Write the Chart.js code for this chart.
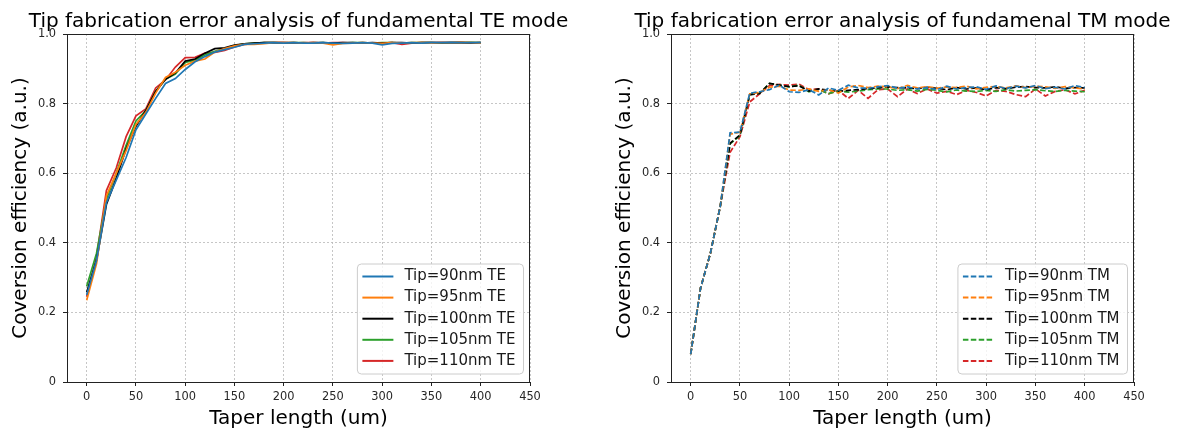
<!DOCTYPE html>
<html>
<head>
<meta charset="utf-8">
<script src="https://cdn.jsdelivr.net/npm/chart.js@4.4.0/dist/chart.umd.min.js"></script>
<style>
  body { margin: 0; background: #fff; width: 1178px; height: 430px; overflow: hidden; position: relative; }
  #boxTE { position: absolute; left: 0; top: 0; }
  #boxTM { position: absolute; left: 604px; top: 0; }
</style>
</head>
<body>
<div id="boxTE"><canvas id="graficoTE" width="590" height="430"></canvas></div>
<div id="boxTM"><canvas id="graficoTM" width="574" height="430"></canvas></div>
<script>
var taperLength = [0, 10, 20, 30, 40, 50, 60, 70, 80, 90,
    100, 110, 120, 130, 140, 150, 160, 170, 180, 190,
    200, 210, 220, 230, 240, 250, 260, 270, 280, 290,
    300, 310, 320, 330, 340, 350, 360, 370, 380, 390, 400];

var xTicks = [0, 50, 100, 150, 200, 250, 300, 350, 400, 450];
var yTicks = [0, 0.2, 0.4, 0.6, 0.8, 1.0];
var yTickLabels = ['0', '0.2', '0.4', '0.6', '0.8', '1.0'];

// TE
var te90 = [0.250, 0.350, 0.515, 0.580, 0.645, 0.725, 0.770, 0.815, 0.858, 0.872,
    0.898, 0.920, 0.935, 0.948, 0.955, 0.962, 0.970, 0.972, 0.974, 0.975,
    0.974, 0.975, 0.974, 0.974, 0.975, 0.974, 0.973, 0.974, 0.975, 0.974,
    0.969, 0.973, 0.974, 0.975, 0.974, 0.975, 0.975, 0.976, 0.975, 0.975, 0.975];
var te95 = [0.235, 0.340, 0.535, 0.600, 0.665, 0.740, 0.775, 0.830, 0.875, 0.890,
    0.910, 0.922, 0.928, 0.948, 0.958, 0.966, 0.970, 0.970, 0.972, 0.975,
    0.975, 0.975, 0.974, 0.975, 0.974, 0.969, 0.973, 0.974, 0.975, 0.974,
    0.973, 0.975, 0.974, 0.975, 0.975, 0.974, 0.975, 0.975, 0.976, 0.975, 0.974];
var te100 = [0.258, 0.350, 0.510, 0.585, 0.670, 0.735, 0.780, 0.835, 0.870, 0.888,
    0.922, 0.928, 0.945, 0.958, 0.960, 0.968, 0.972, 0.974, 0.975, 0.975,
    0.975, 0.975, 0.974, 0.975, 0.975, 0.974, 0.975, 0.975, 0.974, 0.975,
    0.974, 0.975, 0.975, 0.974, 0.975, 0.975, 0.975, 0.975, 0.975, 0.974, 0.975];
var te105 = [0.275, 0.370, 0.525, 0.600, 0.680, 0.750, 0.780, 0.835, 0.870, 0.885,
    0.918, 0.925, 0.940, 0.950, 0.958, 0.967, 0.972, 0.974, 0.975, 0.975,
    0.974, 0.975, 0.975, 0.974, 0.975, 0.972, 0.974, 0.975, 0.975, 0.974,
    0.975, 0.975, 0.974, 0.975, 0.975, 0.975, 0.974, 0.975, 0.975, 0.976, 0.975];
var te110 = [0.245, 0.360, 0.550, 0.615, 0.705, 0.765, 0.785, 0.845, 0.868, 0.905,
    0.932, 0.933, 0.945, 0.947, 0.953, 0.963, 0.970, 0.972, 0.975, 0.975,
    0.975, 0.974, 0.975, 0.975, 0.974, 0.975, 0.975, 0.974, 0.975, 0.974,
    0.974, 0.975, 0.970, 0.974, 0.975, 0.975, 0.975, 0.975, 0.976, 0.975, 0.975];

// TM
var tm90 = [0.080, 0.270, 0.370, 0.505, 0.716, 0.718, 0.830, 0.834, 0.840, 0.853,
    0.834, 0.832, 0.840, 0.825, 0.845, 0.838, 0.853, 0.845, 0.844, 0.848,
    0.852, 0.844, 0.848, 0.842, 0.846, 0.840, 0.850, 0.842, 0.846, 0.848,
    0.841, 0.851, 0.843, 0.850, 0.845, 0.852, 0.843, 0.847, 0.842, 0.852, 0.846];
var tm95 = [0.080, 0.270, 0.370, 0.505, 0.712, 0.718, 0.828, 0.832, 0.847, 0.850,
    0.839, 0.838, 0.842, 0.835, 0.840, 0.830, 0.848, 0.852, 0.846, 0.850,
    0.848, 0.843, 0.852, 0.845, 0.849, 0.844, 0.848, 0.846, 0.850, 0.842,
    0.847, 0.849, 0.845, 0.851, 0.846, 0.850, 0.848, 0.844, 0.849, 0.845, 0.842];
var tm100 = [0.080, 0.270, 0.370, 0.505, 0.686, 0.710, 0.826, 0.829, 0.858, 0.853,
    0.849, 0.851, 0.836, 0.842, 0.838, 0.835, 0.838, 0.840, 0.843, 0.845,
    0.848, 0.846, 0.845, 0.843, 0.847, 0.844, 0.840, 0.846, 0.842, 0.845,
    0.840, 0.846, 0.843, 0.847, 0.849, 0.846, 0.845, 0.848, 0.844, 0.846, 0.845];
var tm105 = [0.080, 0.270, 0.370, 0.505, 0.684, 0.708, 0.826, 0.830, 0.858, 0.853,
    0.848, 0.853, 0.834, 0.840, 0.829, 0.836, 0.833, 0.836, 0.840, 0.842,
    0.842, 0.838, 0.840, 0.836, 0.841, 0.838, 0.834, 0.839, 0.836, 0.835,
    0.838, 0.835, 0.840, 0.836, 0.838, 0.840, 0.837, 0.835, 0.838, 0.836, 0.834];
var tm110 = [0.080, 0.270, 0.370, 0.505, 0.660, 0.705, 0.805, 0.828, 0.852, 0.855,
    0.853, 0.856, 0.840, 0.842, 0.828, 0.838, 0.815, 0.838, 0.815, 0.840,
    0.842, 0.820, 0.842, 0.829, 0.842, 0.830, 0.835, 0.826, 0.838, 0.832,
    0.822, 0.838, 0.835, 0.826, 0.820, 0.842, 0.822, 0.835, 0.840, 0.828, 0.838];

var labelsTE = ['Tip=90nm TE', 'Tip=95nm TE', 'Tip=100nm TE', 'Tip=105nm TE', 'Tip=110nm TE'];
var labelsTM = ['Tip=90nm TM', 'Tip=95nm TM', 'Tip=100nm TM', 'Tip=105nm TM', 'Tip=110nm TM'];
var cores = ['#1f77b4', '#ff7f0e', '#000000', '#2ca02c', '#d62728'];

var fonte = "'DejaVu Sans', sans-serif";

// titulo, moldura e legenda dentro da area do grafico
var legendaInterna = {
    id: 'legendaInterna',
    afterDatasetsDraw: function (chart) {
        var ctx = chart.ctx;
        var area = chart.chartArea;
        ctx.save();

        ctx.fillStyle = '#000';
        ctx.font = '20px ' + fonte;
        ctx.textAlign = 'center';
        ctx.textBaseline = 'alphabetic';
        ctx.fillText(chart.options.tituloGrafico, (area.left + area.right) / 2, 27);

        ctx.strokeStyle = '#222';
        ctx.lineWidth = 1;
        ctx.strokeRect(Math.round(area.left) + 0.5, Math.round(area.top) + 0.5,
            Math.round(area.right - area.left) - 1, Math.round(area.bottom - area.top));

        ctx.font = '15px ' + fonte;
        var larguraTexto = 0;
        chart.data.datasets.forEach(function (d) {
            larguraTexto = Math.max(larguraTexto, ctx.measureText(d.label).width);
        });
        var largura = 47 + larguraTexto + 8;
        var altura = 110;
        var x0 = area.right - 6.5 - largura;
        var y0 = area.bottom - 8 - altura;

        ctx.beginPath();
        ctx.roundRect(x0, y0, largura, altura, 4);
        ctx.fillStyle = 'rgba(255,255,255,0.8)';
        ctx.fill();
        ctx.strokeStyle = '#cccccc';
        ctx.stroke();

        chart.data.datasets.forEach(function (d, i) {
            var y = y0 + 12.5 + i * 21.1;
            ctx.beginPath();
            ctx.setLineDash(d.borderDash || []);
            ctx.strokeStyle = d.borderColor;
            ctx.lineWidth = 2;
            ctx.moveTo(x0 + 5, y);
            ctx.lineTo(x0 + 36, y);
            ctx.stroke();
            ctx.setLineDash([]);
            ctx.fillStyle = '#1a1a1a';
            ctx.textBaseline = 'middle';
            ctx.textAlign = 'left';
            ctx.fillText(d.label, x0 + 47, y);
        });
        ctx.restore();
    }
};

function criarGrafico(idCanvas, titulo, labels, series, tracejado, margemDireita) {
    var datasets = [];
    for (var i = 0; i < series.length; i++) {
        datasets.push({
            label: labels[i],
            data: taperLength.map(function (x, j) { return { x: x, y: series[i][j] }; }),
            borderColor: cores[i],
            backgroundColor: cores[i],
            borderWidth: 1.7,
            borderDash: tracejado ? [5.5, 2.4] : [],
            pointRadius: 0,
            tension: 0,
            fill: false
        });
    }

    var grade = {
        color: '#b8b8b8',
        lineWidth: 0.8,
        tickColor: '#222',
        tickLength: 4,
        tickWidth: 1,
        tickBorderDash: []
    };
    var borda = { display: false, dash: [2, 2] };

    return new Chart(document.getElementById(idCanvas), {
        type: 'line',
        data: { datasets: datasets },
        options: {
            tituloGrafico: titulo,
            responsive: false,
            animation: false,
            devicePixelRatio: 1,
            layout: { padding: { left: 0, right: margemDireita, top: 34, bottom: 0 } },
            plugins: {
                legend: { display: false },
                tooltip: { enabled: false },
                title: { display: false }
            },
            scales: {
                x: {
                    type: 'linear',
                    min: -20,
                    max: 450,
                    afterBuildTicks: function (s) { s.ticks = xTicks.map(function (v) { return { value: v }; }); },
                    afterFit: function (s) { s.height = 48; },
                    ticks: {
                        color: '#262626',
                        font: { family: fonte, size: 11.4 },
                        padding: 4,
                        maxRotation: 0,
                        autoSkip: false,
                        callback: function (v) { return String(v); }
                    },
                    grid: grade,
                    border: borda,
                    title: {
                        display: true,
                        text: 'Taper length (um)',
                        color: '#000',
                        font: { family: fonte, size: 20 },
                        padding: { top: 0, bottom: -1 }
                    }
                },
                y: {
                    min: 0,
                    max: 1,
                    afterBuildTicks: function (s) { s.ticks = yTicks.map(function (v) { return { value: v }; }); },
                    afterFit: function (s) { s.width = 67; },
                    ticks: {
                        color: '#262626',
                        font: { family: fonte, size: 11.4 },
                        padding: 7,
                        callback: function (v, i) { return yTickLabels[i]; }
                    },
                    grid: grade,
                    border: borda,
                    title: {
                        display: true,
                        text: 'Coversion efficiency (a.u.)',
                        color: '#000',
                        font: { family: fonte, size: 20 },
                        padding: { top: 9, bottom: 0 }
                    }
                }
            }
        },
        plugins: [legendaInterna]
    });
}

criarGrafico('graficoTE', 'Tip fabrication error analysis of fundamental TE mode',
    labelsTE, [te90, te95, te100, te105, te110], false, 60);
criarGrafico('graficoTM', 'Tip fabrication error analysis of fundamenal TM mode',
    labelsTM, [tm90, tm95, tm100, tm105, tm110], true, 44);
</script>
</body>
</html>
